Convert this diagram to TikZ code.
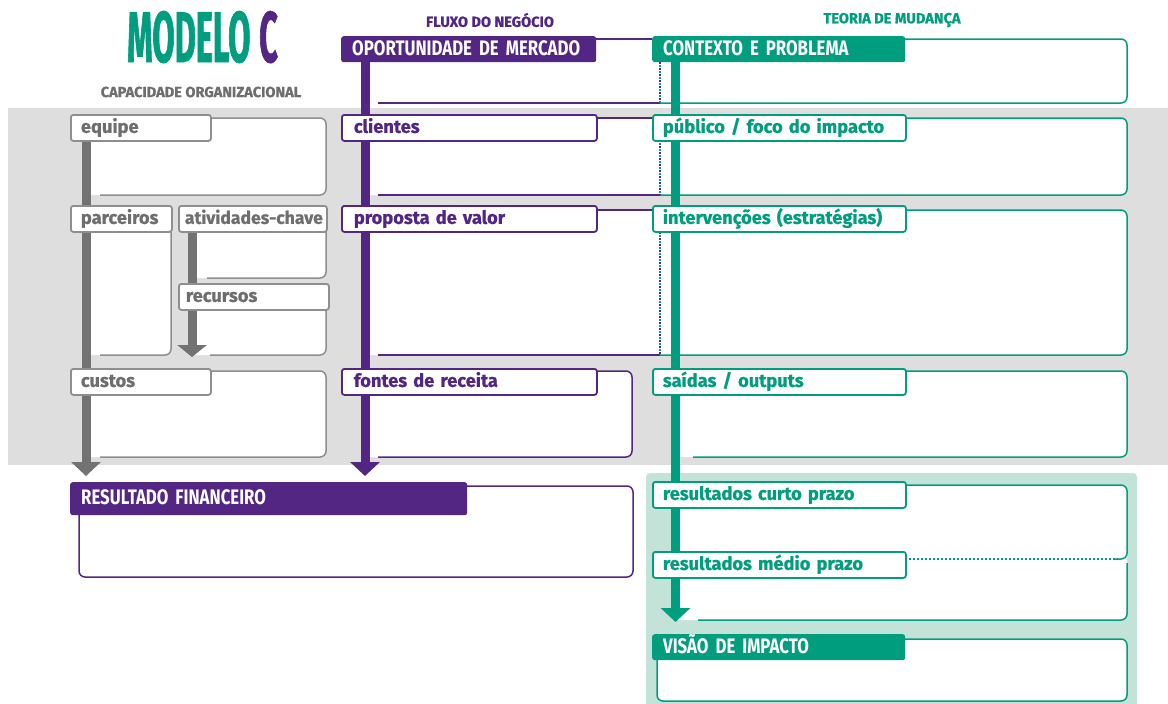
\documentclass[tikz,border=0pt]{standalone}
\usepackage{fontspec}
\usepackage{tikz}
\usetikzlibrary{arrows.meta,backgrounds}
\setmainfont{Fira Sans}
\newfontfamily\tabfont[FakeBold=0.8]{Fira Sans}
\newfontfamily\condfont[FakeStretch=0.8,WordSpace=0.7]{Fira Sans}
\newfontfamily\titlefont[FakeStretch=0.45,FakeBold=0.8]{Fira Sans}
\definecolor{roxo}{HTML}{532683}
\definecolor{verde}{HTML}{009E7F}
\definecolor{cinza}{HTML}{727272}
\definecolor{cinzatxt}{HTML}{6E6E6E}
\definecolor{cinzabd}{HTML}{8E8E8E}
\definecolor{faixa}{HTML}{DEDEDE}
\definecolor{painel}{HTML}{C4E3D8}

\begin{document}
\begin{tikzpicture}[x=1pt, y=-1pt,
        tab/.style={rectangle, rounded corners=2.5pt, line width=1.8pt, fill=white, anchor=north west,
            minimum height=26pt, inner xsep=10pt, inner ysep=0pt, text height=14pt, text depth=4pt,
            align=left, font=\tabfont\bfseries\fontsize{18.3}{18.3}\selectfont,
            execute at begin node={\hyphenpenalty=10000\exhyphenpenalty=10000\relax}},
        cinzatab/.style={tab, draw=cinzabd, text=cinzatxt},
        roxotab/.style={tab, draw=roxo, text=roxo, inner xsep=12pt},
        verdetab/.style={tab, draw=verde, text=verde},
        faixatitulo/.style={rectangle, rounded corners=2.5pt, anchor=north west, minimum height=26pt,
            inner xsep=11pt, inner ysep=0pt, text height=15pt, text depth=3pt, align=left, text=white,
            font=\condfont\bfseries\fontsize{21}{21}\selectfont},
        caixa/.style={line width=1.5pt, rounded corners=6pt},
        barra/.style={line width=9pt, -{Triangle[width=29pt, length=14pt]}},
        pontilhado/.style={line width=2pt, dash pattern=on 2pt off 4pt},
        coluna/.style={font=\tabfont\bfseries\fontsize{14.6}{14.6}\selectfont}
    ]
            \useasboundingbox (0,0) rectangle (1168,704);
            % Define titles
            \node[anchor=base west, inner sep=0pt, font=\titlefont\bfseries\fontsize{72}{72}\selectfont] (titulo) at (127,62)
                {\textcolor{verde}{MODELO}\hspace{1pt} \textcolor{roxo}{C}};
            \node[coluna, text=cinzatxt] (capacidade) at (201,92) {CAPACIDADE ORGANIZACIONAL};
            \node[coluna, text=roxo] (fluxo) at (490,20) {FLUXO DO NEGÓCIO};
            \node[coluna, text=verde] (teoria) at (892,20) {TEORIA DE MUDANÇA};
            % Draw box outlines
            \draw[caixa, cinzabd] (210,118) -- (326,118) -- (326,195) -- (100,195);
            \draw[caixa, cinzabd] (171,230) -- (171,355) -- (100,355);
            \draw[caixa, cinzabd] (326,230) -- (326,278) -- (207,278);
            \draw[caixa, cinzabd] (326,308) -- (326,355) -- (210,355);
            \draw[caixa, cinzabd] (210,371) -- (326,371) -- (326,457) -- (100,457);
            \draw[caixa, roxo] (596,39) -- (652,39) (378,103) -- (660,103);
            \draw[caixa, roxo] (596,118) -- (652,118) (378,195) -- (660,195);
            \draw[caixa, roxo] (596,210) -- (652,210) (378,355) -- (660,355);
            \draw[caixa, roxo] (596,371) -- (632,371) -- (632,457) -- (378,457);
            \draw[caixa, roxo] (467,486) -- (633,486) -- (633,577) -- (79,577) -- (79,512);
            \draw[caixa, verde] (905,39) -- (1127,39) -- (1127,103) -- (660,103);
            \draw[caixa, verde] (905,118) -- (1127,118) -- (1127,195) -- (660,195);
            \draw[caixa, verde] (905,210) -- (1127,210) -- (1127,355) -- (660,355);
            \draw[caixa, verde] (905,371) -- (1127,371) -- (1127,457) -- (693,457);
            \draw[caixa, verde] (905,485) -- (1127,485) -- (1127,559) -- (1115,559);
            \draw[caixa, verde] (1127,563) -- (1127,620) -- (698,620);
            \draw[caixa, verde] (905,639) -- (1127,639) -- (1127,701) -- (657,701) -- (657,658);
            \foreach \ya/\yb in {62/103, 140/195, 232/355} {
                \draw[pontilhado, roxo] (660,\ya) -- (660,\yb);
                \draw[pontilhado, verde, dash phase=3pt] (660,\ya) -- (660,\yb);
            }
            \draw[verde, line width=1.5pt, dash pattern=on 1.5pt off 2.5pt] (905,559) -- (1118,559);
            % Define headers
            \node[faixatitulo, fill=roxo, text width=233pt] (oportunidade) at (341,36) {OPORTUNIDADE DE MERCADO};
            \node[faixatitulo, fill=verde, text width=231pt] (contexto) at (652,36) {CONTEXTO E PROBLEMA};
            \node[faixatitulo, fill=roxo, minimum height=33pt, text width=375pt] (financeiro) at (70,482) {RESULTADO FINANCEIRO};
            \node[faixatitulo, fill=verde, text width=231pt] (visao) at (652,634) {VISÃO DE IMPACTO};
            % Define tabs
            \node[cinzatab, text width=120pt] (equipe) at (70,114) {equipe};
            \node[cinzatab, text width=81pt] (parceiros) at (70,205) {parceiros};
            \node[cinzatab, inner xsep=6pt, text width=136pt, font=\tabfont\bfseries\fontsize{17.6}{17.6}\selectfont] (atividades) at (178,205) {atividades-chave};
            \node[cinzatab, inner xsep=7pt, text width=136pt] (recursos) at (178,283) {recursos};
            \node[cinzatab, text width=120pt] (custos) at (70,368) {custos};
            \node[roxotab, text width=231pt] (clientes) at (341,114) {clientes};
            \node[roxotab, text width=231pt] (proposta) at (341,205) {proposta de valor};
            \node[roxotab, text width=231pt] (fontes) at (341,368) {fontes de receita};
            \node[verdetab, text width=233pt] (publico) at (652,114) {público / foco do impacto};
            \node[verdetab, text width=233pt] (intervencoes) at (652,205) {intervenções (estratégias)};
            \node[verdetab, text width=233pt] (saidas) at (652,368) {saídas / outputs};
            \node[verdetab, text width=233pt] (curto) at (652,481) {resultados curto prazo};
            \node[verdetab, text width=233pt] (medio) at (652,551) {resultados médio prazo};
            \begin{scope}[on background layer]
                % Define background areas
                \fill[faixa] (8,108) rectangle (1168,465);
                \fill[painel, rounded corners=4pt] (646,473) rectangle (1137,712);
                \fill[white, rounded corners=6pt] (82,118) rectangle (326,195) (82,210) rectangle (171,355)
                    (188,230) rectangle (326,278) (188,308) rectangle (326,355) (82,371) rectangle (326,457)
                    (361,39) rectangle (1127,103) (361,118) rectangle (1127,195) (361,210) rectangle (1127,355)
                    (361,371) rectangle (632,457) (671,371) rectangle (1127,457) (79,486) rectangle (633,577)
                    (671,485) rectangle (1127,620) (657,639) rectangle (1127,701);
                % Draw arrows
                \coordinate (pontacinza) at (86,476);
                \coordinate (pontaroxa) at (365,476);
                \coordinate (pontaverde) at (675.5,622);
                \coordinate (pontarecursos) at (192,357);
                \draw[barra, cinza] (equipe.center -| pontacinza) -- (pontacinza);
                \draw[barra, roxo] (oportunidade.center -| pontaroxa) -- (pontaroxa);
                \draw[barra, verde] (contexto.center -| pontaverde) -- (pontaverde);
                \draw[barra, cinza, -{Triangle[width=29pt, length=12pt]}] (atividades.center -| pontarecursos) -- (pontarecursos);
            \end{scope}
        \end{tikzpicture}
\end{document}
